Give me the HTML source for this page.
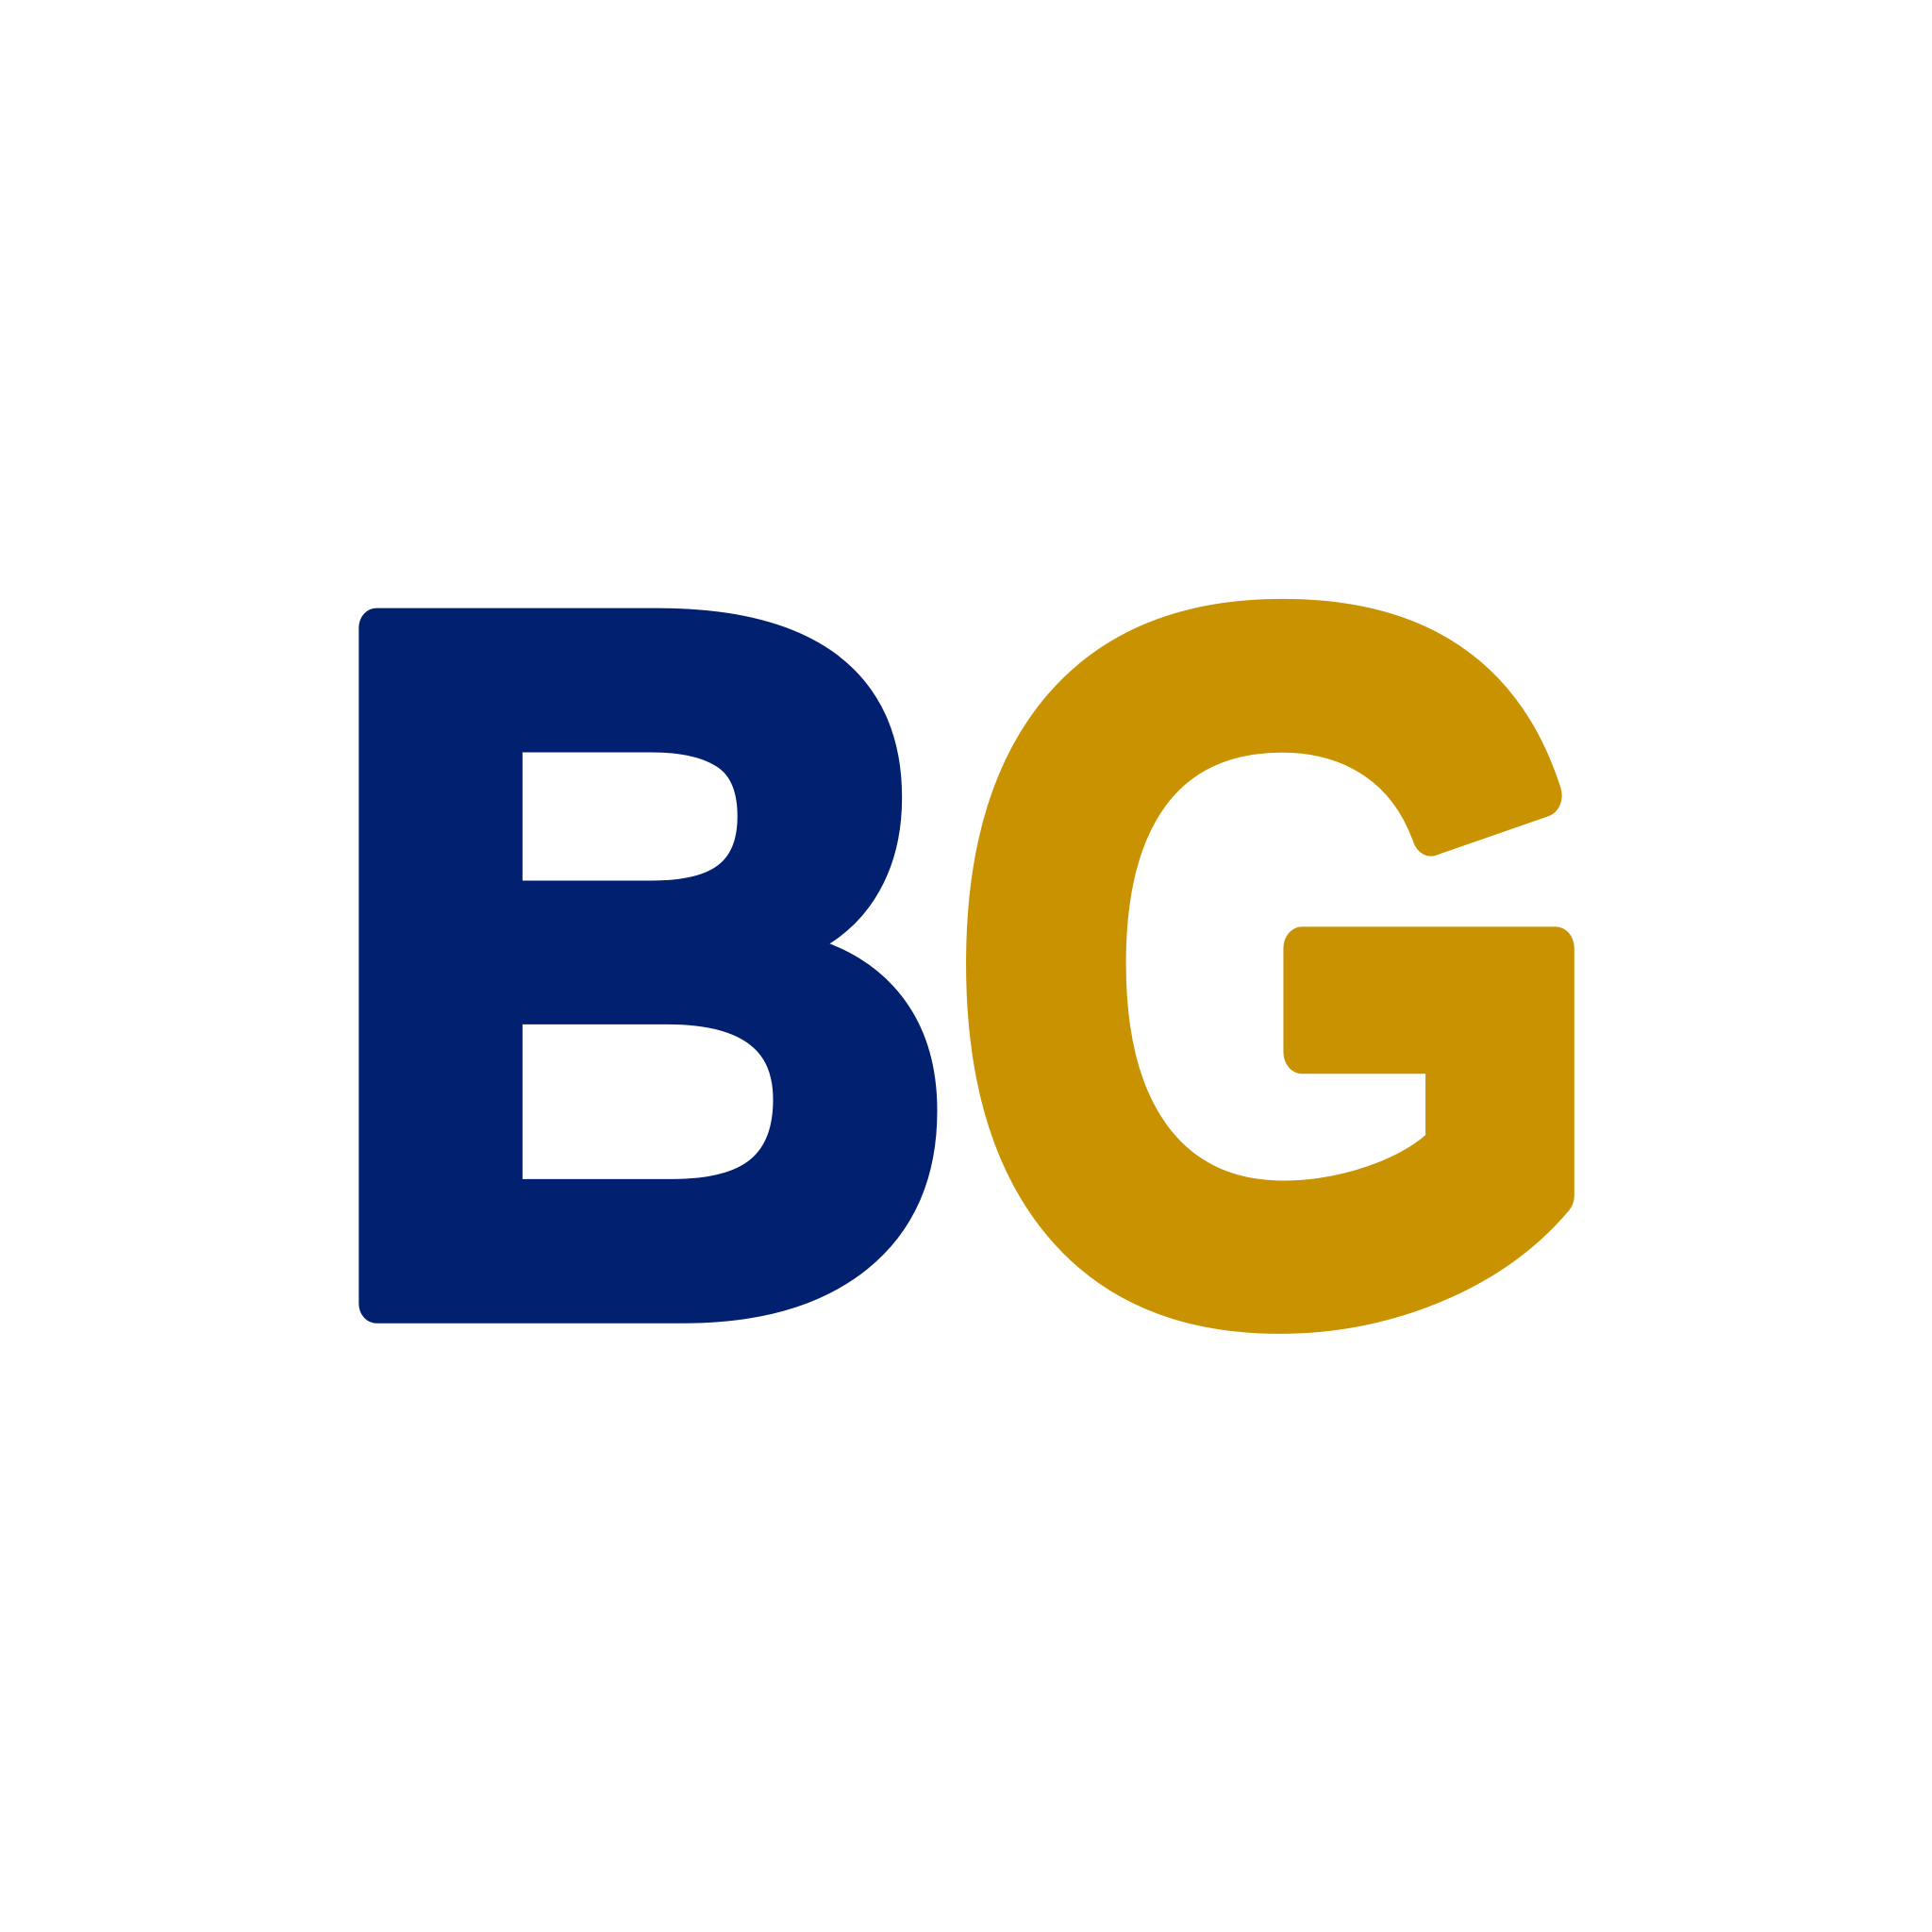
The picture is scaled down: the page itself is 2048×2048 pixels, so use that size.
<!DOCTYPE html>
<html><head><meta charset="utf-8"><style>
html,body{margin:0;padding:0;background:#fff;width:2048px;height:2048px;overflow:hidden}
svg{display:block}
</style></head><body>
<svg width="2048" height="2048" viewBox="0 0 2048 2048">
<rect width="2048" height="2048" fill="#fff"/>
<g transform="translate(336,1382) scale(0.94,1.0375)">
<text x="0" y="0" font-family="Liberation Sans, sans-serif" font-weight="700" font-size="1004" fill="#012070" stroke="#012070" stroke-width="40" stroke-linejoin="round">B</text>
</g>
<g transform="translate(1007,1381) scale(0.897,1.036)">
<text x="0" y="0" font-family="Liberation Sans, sans-serif" font-weight="700" font-size="1000" fill="#C89200" stroke="#C89200" stroke-width="44" stroke-linejoin="round">G</text>
</g>
</svg>
</body></html>
